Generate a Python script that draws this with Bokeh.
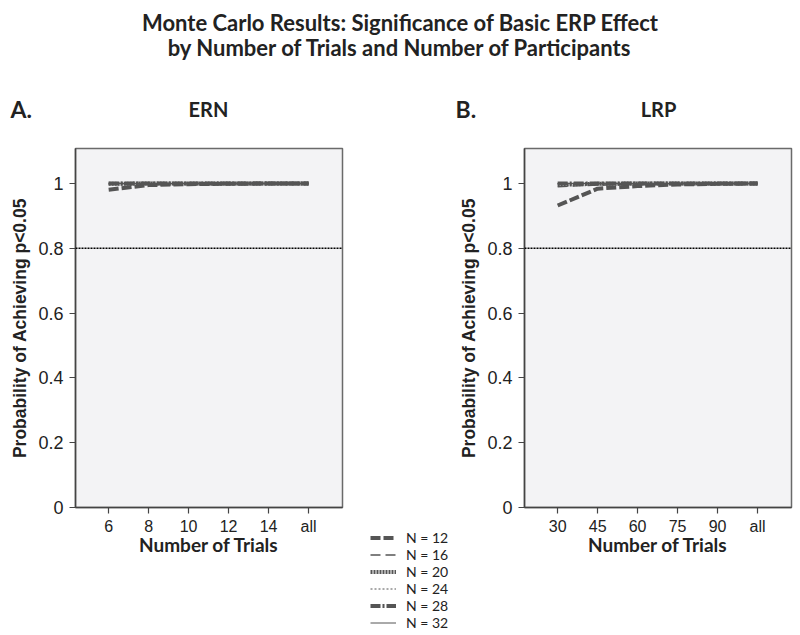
from bokeh.plotting import figure
from bokeh.models import (Range1d, FixedTicker, Span, Label, Legend, LegendItem,
                          CustomJSTickFormatter)
from bokeh.layouts import column, row
from bokeh.embed import file_html
from bokeh.resources import INLINE

# ---------------- data ----------------
ern_trials = ["6", "8", "10", "12", "14", "all"]
lrp_trials = ["30", "45", "60", "75", "90", "all"]
n_labels = ["N = 12", "N = 16", "N = 20", "N = 24", "N = 28", "N = 32"]

ern_n12 = [0.981, 0.995, 0.998, 0.999, 1.0, 1.0]
ern_n16 = [0.997, 0.999, 1.0, 1.0, 1.0, 1.0]
ern_n20 = [0.999, 1.0, 1.0, 1.0, 1.0, 1.0]
ern_n24 = [1.0, 1.0, 1.0, 1.0, 1.0, 1.0]
ern_n28 = [1.0, 1.0, 1.0, 1.0, 1.0, 1.0]
ern_n32 = [1.0, 1.0, 1.0, 1.0, 1.0, 1.0]

lrp_n12 = [0.932, 0.984, 0.992, 0.997, 0.999, 1.0]
lrp_n16 = [0.99, 0.995, 0.998, 1.0, 1.0, 1.0]
lrp_n20 = [0.996, 0.999, 1.0, 1.0, 1.0, 1.0]
lrp_n24 = [0.999, 1.0, 1.0, 1.0, 1.0, 1.0]
lrp_n28 = [1.0, 1.0, 1.0, 1.0, 1.0, 1.0]
lrp_n32 = [1.0, 1.0, 1.0, 1.0, 1.0, 1.0]

y_ticks = [0, 0.2, 0.4, 0.6, 0.8, 1]
criterion = 0.8

# ---------------- styles ----------------
LINE_COLOR = "#555555"
line_styles = [
    dict(line_width=4, line_dash="10 3"),
    dict(line_width=1.3, line_dash="10 5"),
    dict(line_width=4, line_dash="2 1"),
    dict(line_width=1, line_dash="2 2"),
    dict(line_width=4, line_dash="10 2 2 2"),
    dict(line_width=1, line_dash="solid"),
]
TITLE_FONT = "Lato"
TICK_FONT = "Liberation Sans"
TEXT_COLOR = "#222222"

FRAME_W, FRAME_H = 267, 359
X_START, X_END = 0.17, 6.85
Y_START, Y_END = 0.0, 1.108
TOP_H = 125


def make_panel(trials, series, mb_left, mb_right):
    xs = list(range(1, len(trials) + 1))
    p = figure(frame_width=FRAME_W, frame_height=FRAME_H,
               min_border_left=mb_left, min_border_right=mb_right,
               min_border_top=148 - TOP_H, min_border_bottom=128,
               x_range=Range1d(X_START, X_END), y_range=Range1d(Y_START, Y_END),
               output_backend="svg", toolbar_location=None,
               background_fill_color="#f3f3f5", border_fill_color="white")
    p.grid.visible = False
    p.outline_line_color = "#6a6a6a"
    p.outline_line_width = 1.5

    for vals, st in zip(series, line_styles):
        p.line(xs, vals, line_color=LINE_COLOR, line_cap="butt", **st)

    p.add_layout(Span(location=criterion, dimension="width", line_color="black",
                      line_width=1.5, line_dash="2 1"))

    p.xaxis.ticker = FixedTicker(ticks=xs)
    p.xaxis.major_label_overrides = {x: t for x, t in zip(xs, trials)}
    p.yaxis.ticker = FixedTicker(ticks=y_ticks)
    p.yaxis.formatter = CustomJSTickFormatter(code="return String(Number(tick.toFixed(2)));")
    for ax in (p.xaxis[0], p.yaxis[0]):
        ax.axis_line_color = "#444444"
        ax.axis_line_width = 1.5
        ax.major_tick_line_color = "#444444"
        ax.major_tick_line_width = 1.2
        ax.major_tick_out = 6
        ax.major_tick_in = 0
        ax.minor_tick_line_color = None
        ax.major_label_text_font = TICK_FONT
        ax.major_label_text_color = TEXT_COLOR
        ax.axis_label_text_color = TEXT_COLOR
        ax.axis_label_text_font_style = "bold"
    p.xaxis.major_label_text_font_size = "16px"
    p.xaxis.major_label_standoff = 4
    p.xaxis.axis_label = "Number of Trials"
    p.xaxis.axis_label_text_font = TITLE_FONT
    p.xaxis.axis_label_text_font_size = "19px"
    p.xaxis.axis_label_standoff = -5
    p.yaxis.major_label_text_font_size = "18px"
    p.yaxis.major_label_standoff = 6
    p.yaxis.axis_label = "Probability of Achieving p<0.05"
    p.yaxis.axis_label_text_font = TICK_FONT
    p.yaxis.axis_label_text_font_size = "17.5px"
    p.yaxis.axis_label_standoff = 5
    return p


ern_series = [ern_n12, ern_n16, ern_n20, ern_n24, ern_n28, ern_n32]
lrp_series = [lrp_n12, lrp_n16, lrp_n20, lrp_n24, lrp_n28, lrp_n32]

left = make_panel(ern_trials, ern_series, 75, 18)
right = make_panel(lrp_trials, lrp_series, 74, 9)

# ---- legend column between the panels ----
LG_H = 635 - TOP_H
lg = figure(width=90, height=LG_H, x_range=Range1d(100, 101), y_range=Range1d(100, 101),
            x_axis_location=None, y_axis_location=None, min_border=0,
            output_backend="svg", toolbar_location=None)
lg.grid.visible = False
lg.outline_line_color = None
if "frame_align" in lg.properties():
    lg.frame_align = False
items = []
xs_e = list(range(1, len(ern_trials) + 1))
for lab, vals, st in zip(n_labels, ern_series, line_styles):
    r = lg.line(xs_e, vals, line_color=LINE_COLOR, line_cap="butt", **st)
    items.append(LegendItem(label=lab, renderers=[r]))
leg = Legend(items=items, location=(10, 4), padding=0, margin=0, spacing=0,
             label_height=15, glyph_height=15, glyph_width=26,
             label_standoff=10, label_text_font=TITLE_FONT,
             label_text_font_size="14px", label_text_color=TEXT_COLOR,
             border_line_color=None, background_fill_alpha=0)
lg.add_layout(leg, "center")

# ---- top: main title and panel headers ----
t = figure(width=800, height=TOP_H, x_range=Range1d(0, 800), y_range=Range1d(0, TOP_H),
           x_axis_location=None, y_axis_location=None, min_border=0,
           output_backend="svg", toolbar_location=None)
t.grid.visible = False
t.outline_line_color = None


def header(x, y, text, size, align):
    t.add_layout(Label(x=x, y=TOP_H - y, text=text, text_font=TITLE_FONT,
                       text_font_style="bold", text_font_size=size,
                       text_align=align, text_baseline="middle", text_color=TEXT_COLOR))


header(400, 22, "Monte Carlo Results: Significance of Basic ERP Effect", "22px", "center")
header(400, 47, "by Number of Trials and Number of Participants", "22px", "center")
header(10, 108, "A.", "23px", "left")
header(208, 108, "ERN", "20px", "center")
header(455, 108, "B.", "23px", "left")
header(658, 108, "LRP", "20px", "center")

layout = column(t, row(left, column(lg), right, spacing=0), spacing=0)

with open("out.html", "w") as f:
    f.write(file_html(layout, INLINE))
